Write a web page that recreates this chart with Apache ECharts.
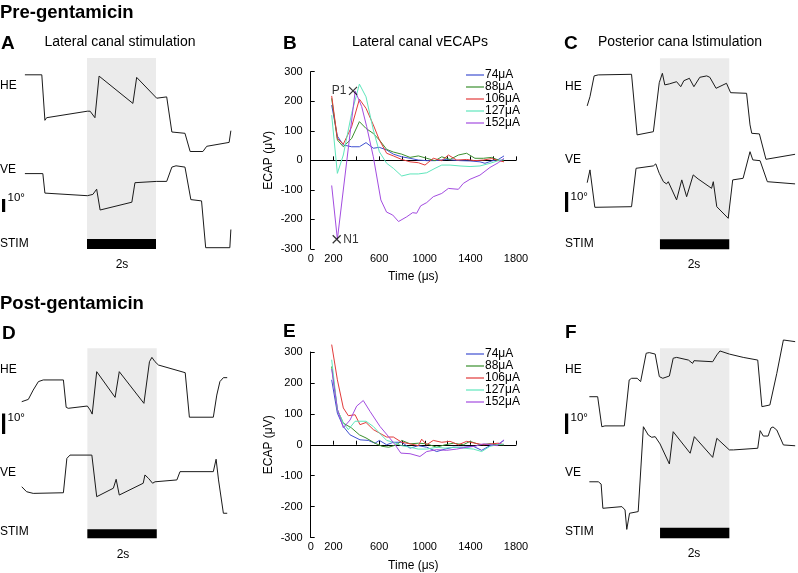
<!DOCTYPE html>
<html><head><meta charset="utf-8">
<script src="https://cdn.jsdelivr.net/npm/echarts@6/dist/echarts.min.js"></script>
<style>html,body{margin:0;padding:0;background:#fff}#c{width:798px;height:573px}</style>
</head><body><div id="c"></div>
<script>
// ---------- DATA ----------
const currents = ['74μA', '88μA', '106μA', '127μA', '152μA'];
const stimWindow = [0, 2]; // seconds, stimulation on
const ecapXTickLabels = [0, 200, 600, 1000, 1400, 1800];

// Panel B: pre-gentamicin vECAPs, [time μs, ECAP μV]
const pre74 = [[184,187],[234,82],[286,52],[359,46],[427,46],[485,60],[549,41],[602,44],[666,35],[725,21],[798,12],[871,7],[944,1],[1017,-1],[1090,-1],[1192,3],[1309,-1],[1397,-2],[1484,-5],[1528,-10],[1587,-2],[1645,3],[1695,15]];
const pre88 = [[184,210],[234,69],[286,46],[359,74],[427,131],[485,108],[549,91],[602,69],[666,37],[725,28],[798,21],[871,10],[944,15],[1017,7],[1090,-1],[1149,12],[1222,3],[1295,18],[1367,24],[1440,7],[1514,7],[1587,10],[1645,1],[1695,-2]];
const pre106 = [[184,218],[234,74],[286,55],[359,114],[427,207],[485,176],[549,120],[602,69],[666,24],[725,15],[798,3],[871,-5],[944,-8],[1002,-16],[1075,7],[1149,-1],[1207,18],[1280,1],[1367,3],[1440,-1],[1514,1],[1587,6],[1645,-1],[1695,-5]];
const pre127 = [[184,153],[234,-44],[286,18],[359,159],[427,258],[485,215],[549,103],[602,29],[666,-10],[725,-27],[798,-53],[871,-46],[944,-46],[1017,-42],[1090,-27],[1149,-16],[1222,-16],[1309,-19],[1397,-21],[1484,-19],[1572,-10],[1645,-1],[1695,3]];
const pre152 = [[184,-85],[234,-267],[390,235],[447,182],[491,114],[549,12],[615,-134],[665,-175],[719,-185],[770,-207],[842,-191],[894,-177],[929,-179],[964,-154],[1017,-143],[1075,-123],[1149,-112],[1207,-95],[1295,-98],[1338,-78],[1397,-64],[1484,-50],[1572,-24],[1645,-8],[1695,7]];
const prePeaks = [[371, 235, 'P1'], [228, -267, 'N1']];

// Panel E: post-gentamicin vECAPs
const post74 = [[184,210],[234,102],[286,59],[345,32],[432,16],[505,14],[564,5],[602,14],[666,0],[725,8],[798,8],[871,-11],[944,-3],[1017,-8],[1105,-22],[1178,-14],[1251,-8],[1338,-8],[1426,-5],[1499,-18],[1572,-3],[1636,0],[1695,14]];
const post88 = [[184,253],[234,113],[286,70],[359,54],[427,32],[485,22],[564,5],[625,-5],[684,-8],[754,0],[798,14],[871,3],[944,5],[1017,3],[1105,-8],[1178,0],[1251,5],[1338,0],[1397,11],[1484,0],[1572,3],[1636,0],[1695,0]];
const post106 = [[184,324],[234,210],[286,119],[330,94],[389,97],[432,65],[485,72],[549,49],[602,38],[666,25],[725,25],[798,8],[871,3],[944,-3],[973,18],[1017,0],[1075,14],[1149,8],[1222,11],[1295,0],[1367,11],[1440,5],[1514,0],[1587,3],[1645,5],[1695,0]];
const post127 = [[184,275],[234,113],[286,70],[330,49],[389,76],[485,76],[549,59],[602,38],[666,14],[725,8],[798,-3],[871,-8],[944,-14],[1017,-14],[1105,-8],[1178,-11],[1251,-8],[1338,-11],[1426,-14],[1499,-22],[1572,-5],[1636,0],[1695,2]];
const post152 = [[184,245],[234,115],[286,55],[345,80],[403,125],[461,143],[520,108],[608,59],[681,27],[740,0],[790,-27],[871,-29],[958,-38],[1017,-22],[1105,-16],[1192,-18],[1280,-14],[1367,-8],[1440,-5],[1514,3],[1587,0],[1636,-3],[1695,16]];

// Eye position traces, [time s (0 = stim onset), position deg]
const aHE = [[-1.80,134],[-1.31,134],[-1.22,99],[-1.17,101],[0.01,106],[0.09,106],[0.23,101],[0.35,133],[1.33,112],[1.44,132],[2.02,116],[2.31,117],[2.46,90],[2.84,89],[2.99,75],[3.36,75],[3.39,74],[3.47,79],[4.12,82],[4.17,91]];
const aVE = [[-1.80,58],[-1.28,58],[-1.22,43],[0.01,41],[0.17,42],[0.28,46],[0.38,30],[1.30,36],[1.39,51],[2.02,52],[2.31,52],[2.46,63],[2.58,64],[2.84,63],[3.01,38],[3.32,37],[3.44,1],[4.14,1],[4.17,15]];
const cHE = [[-2.10,71.7],[-2.02,76.3],[-1.90,86.7],[-1.78,87.2],[-0.82,87.5],[-0.66,57.2],[-0.19,58.8],[-0.02,83.3],[0.07,88],[0.14,82.2],[0.27,82.7],[0.48,83.8],[0.60,81.3],[0.69,84.3],[0.85,85.5],[0.98,81.3],[1.15,86],[1.35,86.7],[1.44,86],[1.62,80.5],[1.92,83],[2.04,78.3],[2.50,78],[2.60,62.2],[2.65,58],[2.87,57.7],[3.06,45],[3.90,47.5]];
const cVE = [[-2.10,33.3],[-2.02,39.7],[-1.88,21],[-0.82,21.3],[-0.69,40.5],[-0.19,41.7],[-0.12,42.7],[-0.02,38],[0.10,33.8],[0.19,32.7],[0.24,33.8],[0.48,24.7],[0.63,34.7],[0.77,26.3],[0.96,37.2],[1.10,35.2],[1.49,30.5],[1.54,33.8],[1.64,21.3],[1.97,15.5],[2.10,34.7],[2.40,35.5],[2.60,48.8],[2.68,44.7],[2.89,44.3],[3.10,33.8],[3.90,32.7]];
const dHE = [[-1.89,66],[-1.70,67.1],[-1.56,71.6],[-1.41,75.7],[-1.27,76.5],[-0.69,76.5],[-0.61,63.3],[-0.55,62.8],[0.00,63.9],[0.08,62],[0.14,60],[0.27,80.5],[0.80,68.1],[0.92,80.5],[1.63,65.2],[1.79,85.3],[1.86,87.4],[1.95,85.3],[2.05,83.7],[2.82,80],[2.94,58.5],[3.63,58.5],[3.73,69.2],[3.82,75.7],[3.92,77.6],[4.03,77.6]];
const dVE = [[-1.89,24.9],[-1.75,22.5],[-1.56,21.7],[-0.69,22],[-0.59,38.6],[-0.50,40.2],[0.13,40.2],[0.27,20.1],[0.75,24.2],[0.83,28.5],[0.92,20.9],[1.61,26.6],[1.66,30.6],[1.76,29],[1.88,26.6],[1.95,27.3],[2.58,28.2],[2.67,32.2],[3.63,32.2],[3.71,38.2],[3.78,28.2],[3.92,12.1],[4.03,12.1]];
const fHE = [[-2.04,68.4],[-1.80,68.4],[-1.68,53.9],[-1.59,54.3],[-1.03,54.3],[-0.89,76.5],[-0.82,77.3],[-0.66,77.3],[-0.56,75.7],[-0.40,89.4],[-0.31,89.7],[-0.14,89],[-0.02,78.1],[0.08,77.3],[0.27,78.4],[0.38,87],[0.48,87.4],[0.82,86.1],[0.94,84.5],[0.98,85.8],[1.52,85.3],[1.64,88.6],[1.73,90.5],[2.00,89],[2.40,87.4],[2.82,86.1],[2.94,63.6],[3.17,64.4],[3.37,79.7],[3.56,95.8],[3.90,95]];
const fVE = [[-2.04,27.3],[-1.78,27.3],[-1.73,28.2],[-1.70,26.2],[-1.65,14.5],[-1.10,15.3],[-1.01,13.7],[-0.96,4.3],[-0.88,12.1],[-0.63,12.9],[-0.48,53.9],[-0.43,54.7],[-0.34,49.9],[-0.24,48.8],[-0.14,49.1],[0.00,45.6],[0.27,35.9],[0.38,51.5],[0.87,41.1],[0.99,49.1],[1.52,39.1],[1.64,48.3],[2.00,42.7],[2.12,42.7],[2.82,43.5],[2.89,52],[2.98,49.4],[3.12,49.4],[3.20,53.3],[3.26,53.8],[3.37,52.3],[3.56,45.1],[3.90,44.7]];

// ---------- LAYOUT / STYLE ----------
const FONT = '"Liberation Sans", Arial, Helvetica, sans-serif';
const lineColors = ['#3f4fd0', '#3a8f2e', '#e23a3a', '#5fe6bc', '#a34ce0'];

const tracePanels = [
  {he: aHE, ve: aVE, left: 24.9, top: 58, width: 207, height: 191, xMin: -1.8, xMax: 4.2, pxPerDeg: 1.3, barPx: 10},
  {he: cHE, ve: cVE, left: 587.2, top: 58.3, width: 209.6, height: 191, xMin: -2.1, xMax: 3.95, pxPerDeg: 2, barPx: 10},
  {he: dHE, ve: dVE, left: 21.4, top: 348.3, width: 206.5, height: 190, xMin: -1.9, xMax: 4.05, pxPerDeg: 2.07, barPx: 9},
  {he: fHE, ve: fVE, left: 589, top: 348.3, width: 207.9, height: 190, xMin: -2.05, xMax: 3.95, pxPerDeg: 2.07, barPx: 10.5}
];
const ecapPanels = [
  {series: [pre74, pre88, pre106, pre127, pre152], left: 310.7, top: 71.7, width: 205.3, height: 177.3, legendTop: 69},
  {series: [post74, post88, post106, post127, post152], left: 310.7, top: 352, width: 205.3, height: 185.5, legendTop: 348}
];

const grids = [], xAxes = [], yAxes = [], series = [], legends = [];

tracePanels.forEach((p, i) => {
  grids.push({left: p.left, top: p.top, width: p.width, height: p.height, outerBoundsMode: 'none', containLabel: false});
  xAxes.push({gridIndex: i, type: 'value', min: p.xMin, max: p.xMax, show: false});
  const yMax = p.height / p.pxPerDeg;
  yAxes.push({gridIndex: i, type: 'value', min: 0, max: yMax, show: false});
  series.push({
    type: 'line', xAxisIndex: i, yAxisIndex: i, data: [], z: 1, silent: true,
    markArea: {silent: true, itemStyle: {color: '#ebebeb'},
      data: [[{xAxis: stimWindow[0], yAxis: 0}, {xAxis: stimWindow[1], yAxis: yMax}]]}
  });
  series.push({
    type: 'line', xAxisIndex: i, yAxisIndex: i, data: [], z: 2, silent: true,
    markArea: {silent: true, itemStyle: {color: '#000'},
      data: [[{xAxis: stimWindow[0], yAxis: 0}, {xAxis: stimWindow[1], yAxis: p.barPx / p.pxPerDeg}]]}
  });
  [p.he, p.ve].forEach(d => series.push({
    type: 'line', xAxisIndex: i, yAxisIndex: i, data: d, z: 3, showSymbol: false, silent: true,
    lineStyle: {color: '#1a1a1a', width: 1}, clip: false, animation: false
  }));
});

ecapPanels.forEach((p, k) => {
  const gi = tracePanels.length + k;
  grids.push({left: p.left, top: p.top, width: p.width, height: p.height, outerBoundsMode: 'none', containLabel: false});
  xAxes.push({
    gridIndex: gi, type: 'value', min: 0, max: 1800, interval: 200,
    name: 'Time (μs)', nameLocation: 'middle', nameGap: 22,
    nameTextStyle: {fontFamily: FONT, fontSize: 12, color: '#000'},
    axisLine: {lineStyle: {color: '#000', width: 1}},
    axisTick: {inside: true, length: 4, lineStyle: {color: '#000'}},
    axisLabel: {fontFamily: FONT, fontSize: 11, color: '#000', margin: 4,
      formatter: v => ecapXTickLabels.includes(v) ? String(v) : ''},
    splitLine: {show: false}
  });
  yAxes.push({
    gridIndex: gi, type: 'value', min: -300, max: 300, interval: 100,
    name: 'ECAP (μV)', nameLocation: 'middle', nameGap: 36, nameRotate: 90,
    nameTextStyle: {fontFamily: FONT, fontSize: 12, color: '#000'},
    axisLine: {show: true, lineStyle: {color: '#000', width: 1}},
    axisTick: {show: true, inside: true, length: 4, lineStyle: {color: '#000'}},
    axisLabel: {fontFamily: FONT, fontSize: 11, color: '#000', margin: 8},
    splitLine: {show: false}
  });
  p.series.forEach((d, j) => series.push({
    name: currents[j], type: 'line', xAxisIndex: gi, yAxisIndex: gi, data: d,
    showSymbol: false, clip: false, animation: false,
    lineStyle: {color: lineColors[j], width: 1}, itemStyle: {color: lineColors[j]}
  }));
  legends.push({
    data: currents.map((n, j) => ({name: n, itemStyle: {color: lineColors[j]}})),
    orient: 'vertical', left: 466, top: p.legendTop, padding: 0,
    itemGap: 0, itemWidth: 18, itemHeight: 1.2, icon: 'rect', selectedMode: false,
    textStyle: {fontFamily: FONT, fontSize: 12, color: '#000', lineHeight: 9.6, padding: [0, 0, 0, -4]}
  });
});

// P1 / N1 peak markers (panel B)
series.push({
  type: 'scatter', xAxisIndex: 4, yAxisIndex: 4, z: 10, animation: false,
  symbol: 'path://M0,0L10,10M10,0L0,10', symbolSize: 8,
  itemStyle: {color: 'rgba(0,0,0,0)', borderColor: '#000', borderWidth: 1.2},
  data: prePeaks.map(p => ({value: [p[0], p[1]], label: {
    show: true, formatter: p[2], position: p[2] === 'P1' ? 'left' : 'right', distance: 2,
    fontFamily: FONT, fontSize: 12, color: '#000'}}))
});

// ---------- ANNOTATIONS ----------
function txt(x, y, text, size, opts) {
  opts = opts || {};
  return {type: 'text', x: x, y: y, silent: true, z: 20, style: {
    text: text, fill: '#000', font: (opts.bold ? 'bold ' : '') + size + 'px ' + FONT,
    align: opts.align || 'left', verticalAlign: opts.va || 'middle'}};
}
function bar(x, y, h) {
  return {type: 'rect', silent: true, z: 20, shape: {x: x, y: y, width: 3.2, height: h}, style: {fill: '#000'}};
}
const graphics = [
  txt(0, 13, 'Pre-gentamicin', 18.5, {bold: true}),
  txt(0, 304, 'Post-gentamicin', 18.5, {bold: true}),
  txt(1, 44, 'A', 19, {bold: true}), txt(120, 42, 'Lateral canal stimulation', 14, {align: 'center'}),
  txt(283, 44, 'B', 19, {bold: true}), txt(420, 42, 'Lateral canal vECAPs', 14, {align: 'center'}),
  txt(564, 44, 'C', 19, {bold: true}), txt(680, 42, 'Posterior cana lstimulation', 14, {align: 'center'}),
  txt(2, 334, 'D', 19, {bold: true}),
  txt(283, 332, 'E', 19, {bold: true}),
  txt(565, 333, 'F', 19, {bold: true}),
  // panel A
  txt(0, 86, 'HE', 12), txt(0, 170, 'VE', 12), txt(0, 244, 'STIM', 12),
  bar(2, 199, 13), txt(7.5, 192, '10°', 11.5, {va: 'top'}), txt(122, 265, '2s', 12, {align: 'center'}),
  // panel C
  txt(565, 87, 'HE', 12), txt(565, 160, 'VE', 12), txt(565, 244, 'STIM', 12),
  bar(565, 192, 20), txt(570.5, 191, '10°', 11.5, {va: 'top'}), txt(694, 265, '2s', 12, {align: 'center'}),
  // panel D
  txt(0, 370, 'HE', 12), txt(0, 473, 'VE', 12), txt(0, 532, 'STIM', 12),
  bar(2, 413.5, 20.5), txt(7.5, 412, '10°', 11.5, {va: 'top'}), txt(123, 555, '2s', 12, {align: 'center'}),
  // panel F
  txt(565, 370, 'HE', 12), txt(565, 473, 'VE', 12), txt(565, 532, 'STIM', 12),
  bar(565, 413.5, 20.5), txt(570.5, 412, '10°', 11.5, {va: 'top'}), txt(694, 554, '2s', 12, {align: 'center'})
];

const chart = echarts.init(document.getElementById('c'), null, {renderer: 'canvas'});
chart.setOption({
  animation: false,
  backgroundColor: '#fff',
  textStyle: {fontFamily: FONT},
  grid: grids, xAxis: xAxes, yAxis: yAxes, legend: legends, series: series, graphic: graphics
});
</script></body></html>
